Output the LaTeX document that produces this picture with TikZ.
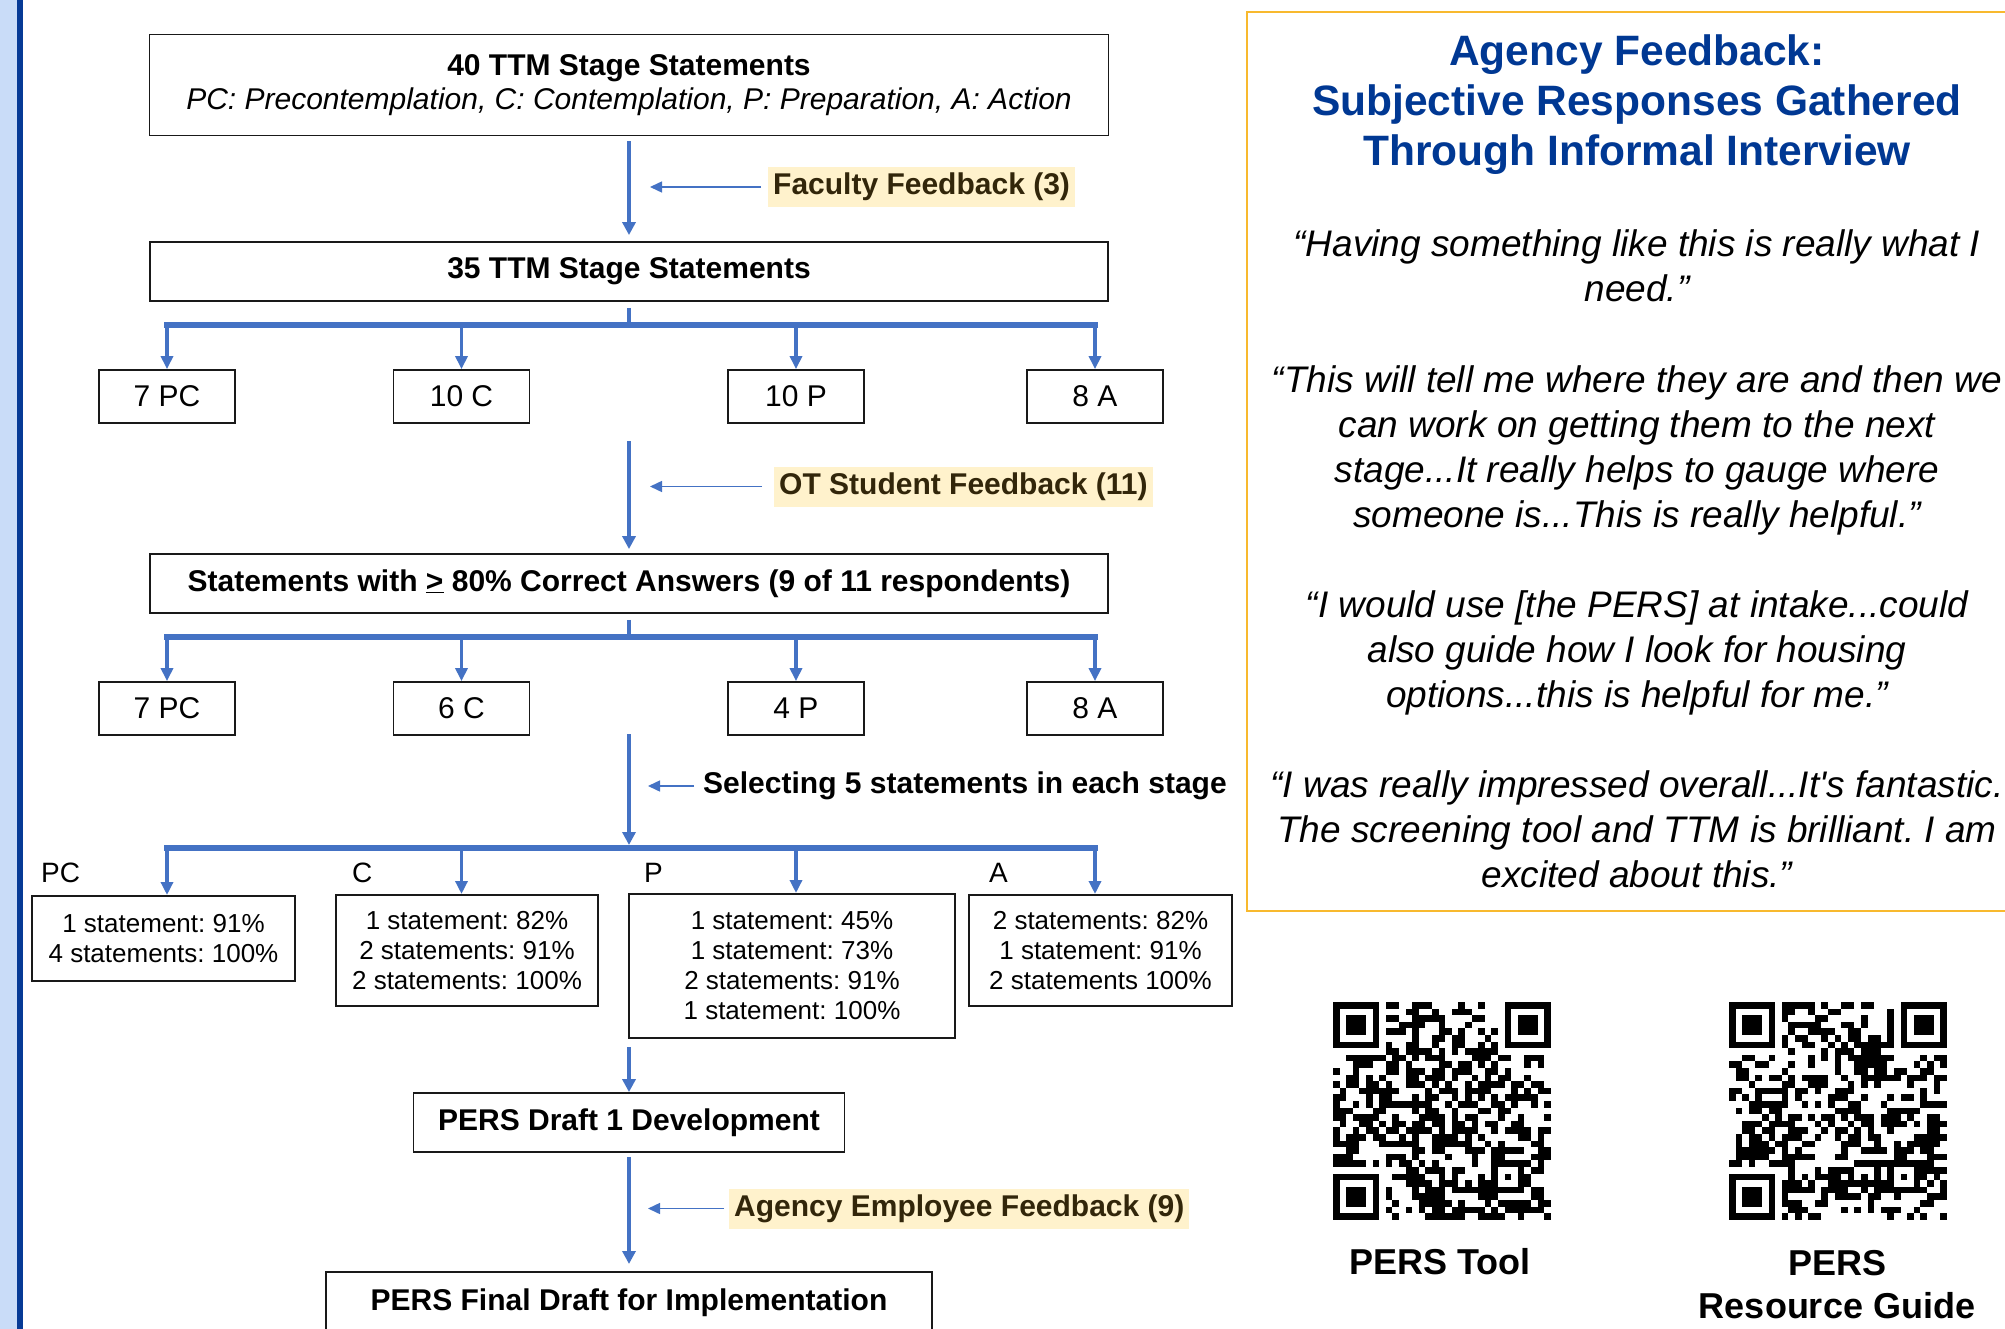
\documentclass[tikz,border=0pt]{standalone}
\usepackage{fontspec}
\setmainfont{Liberation Sans}
\usetikzlibrary{arrows.meta,positioning}
\frenchspacing

\definecolor{flowblue}{RGB}{68,114,196}
\definecolor{hlfill}{RGB}{255,242,204}
\definecolor{hltext}{RGB}{50,38,10}
\definecolor{titleblue}{RGB}{0,56,147}
\definecolor{panelorange}{RGB}{248,185,46}
\definecolor{barlight}{RGB}{201,220,248}
\definecolor{bardark}{RGB}{6,58,150}

\begin{document}
\begin{tikzpicture}[x=1pt, y=-1pt,
    mainbox/.style={draw=black!90, line width=1.8pt, minimum height=59, align=center,
        font=\fontsize{30}{34}\selectfont\bfseries, inner sep=0},
    stagebox/.style={draw=black!90, line width=1.8pt, minimum width=136, minimum height=53,
        font=\fontsize{30}{34}\selectfont, inner sep=0},
    countbox/.style={draw=black!90, line width=1.5pt, anchor=north, align=center,
        font=\fontsize{26}{30}\selectfont, inner sep=0},
    feedback/.style={fill=hlfill, text=hltext, anchor=west, minimum height=40, inner xsep=5,
        inner ysep=0, font=\fontsize{30}{34}\selectfont\bfseries},
    selnote/.style={anchor=west, inner sep=0, font=\fontsize{30}{34}\selectfont\bfseries},
    flow/.style={draw=flowblue, line width=4.5pt, -{Triangle[width=13pt,length=13pt]}},
    sideflow/.style={draw=flowblue, line width=1.5pt, -{Triangle[width=11pt,length=12pt]}},
    stem/.style={draw=flowblue, line width=3.5pt},
    branchbar/.style={draw=flowblue, line width=5.5pt, line cap=rect},
    drop/.style={draw=flowblue, line width=3.5pt, -{Triangle[width=12pt,length=13pt]}},
    stage/.style={anchor=base west, font=\fontsize{28}{32}\selectfont, inner sep=0},
    quote/.style={anchor=base, font=\fontsize{37}{45}\selectfont\itshape, inner sep=0},
    headline/.style={anchor=base, text=titleblue, font=\fontsize{42.5}{50}\selectfont\bfseries, inner sep=0},
    qrlabel/.style={anchor=base, font=\fontsize{36}{44}\selectfont\bfseries, inner sep=0}
]
    \useasboundingbox (0,0) rectangle (2005,1329);
    \clip (0,0) rectangle (2005,1329);
    \fill[white] (0,0) rectangle (2005,1329);

    % left edge band
    \fill[barlight] (0,0) rectangle (17,1329);
    \fill[bardark] (17,0) rectangle (23,1329);

    % Statements
    \node[mainbox, minimum width=959, minimum height=101] (s40) at (629,85)
        {40 TTM Stage Statements\\{\mdseries\itshape PC: Precontemplation, C: Contemplation, P: Preparation, A: Action}};
    \node[mainbox, minimum width=958] (s35) at (629,271.5) {35 TTM Stage Statements};
    \node[mainbox, minimum width=958] (s80) at (629,583.5)
        {Statements with \underline{>} 80\% Correct Answers (9 of 11 respondents)};

    % stage counts
    \foreach \n/\x/\t in {pc1/167/7 PC, c1/461.5/10 C, p1/796/10 P, a1/1095/8 A} {
        \node[stagebox] (\n) at (\x,396.5) {\t};
    }
    \foreach \n/\x/\t in {pc2/167/7 PC, c2/461.5/6 C, p2/796/4 P, a2/1095/8 A} {
        \node[stagebox] (\n) at (\x,708.5) {\t};
    }

    % selected statements per stage
    \node[countbox, minimum width=263, minimum height=85] (pcbox) at (163.5,895)
        {1 statement: 91\%\\4 statements: 100\%};
    \node[countbox, minimum width=262, minimum height=111] (cbox) at (467,894)
        {1 statement: 82\%\\2 statements: 91\%\\2 statements: 100\%};
    \node[countbox, minimum width=326, minimum height=144] (pbox) at (792,893)
        {1 statement: 45\%\\1 statement: 73\%\\2 statements: 91\%\\1 statement: 100\%};
    \node[countbox, minimum width=263, minimum height=111] (abox) at (1100.5,894)
        {2 statements: 82\%\\1 statement: 91\%\\2 statements 100\%};
    \foreach \n/\x/\t in {tpc/41/PC, tc/352/C, tp/644/P, ta/989/A} {
        \node[stage] (\n) at (\x,882) {\t};
    }

    \node[mainbox, minimum width=431] (draft) at (629,1122.5) {PERS Draft 1 Development};
    \node[mainbox, minimum width=606, minimum height=62, anchor=north] (final) at (629,1271)
        {PERS Final Draft for Implementation};

    % feedback notes
    \node[feedback] (fac) at (768,187) {Faculty Feedback (3)};
    \node[feedback] (ots) at (774,486.5) {OT Student Feedback (11)};
    \node[selnote] (sel) at (703,786) {Selecting 5 statements in each stage};
    \node[feedback] (emp) at (729,1208.5) {Agency Employee Feedback (9)};

    % connectors
    \draw[flow, shorten <=5pt, shorten >=6pt] (s40) -- (s35);
    \coordinate (j1) at (629,325);
    \draw[stem, shorten <=6pt] (s35) -- (j1);
    \draw[branchbar] (j1 -| pc1) -- (j1 -| a1);
    \foreach \n in {pc1,c1,p1,a1} \draw[drop] (j1 -| \n) -- (\n);

    \coordinate (o1) at (629,441);
    \draw[flow, shorten >=4pt] (o1) -- (s80);
    \coordinate (j2) at (629,637);
    \draw[stem, shorten <=6pt] (s80) -- (j2);
    \draw[branchbar] (j2 -| pc2) -- (j2 -| a2);
    \foreach \n in {pc2,c2,p2,a2} \draw[drop] (j2 -| \n) -- (\n);

    \coordinate (o2) at (629,734);
    \coordinate (j3) at (629,848);
    \draw[flow, shorten >=3pt] (o2) -- (j3);
    \draw[branchbar] (j3 -| pc1) -- (j3 -| a1);
    \foreach \n/\b in {pc1/pcbox, c1/cbox, p1/pbox, a1/abox} \draw[drop] (j3 -| \n) -- (\n |- \b.north);

    \coordinate (o3) at (629,1047);
    \draw[flow] (o3) -- (draft);
    \draw[flow, shorten <=4pt, shorten >=7pt] (draft) -- (final);

    \draw[sideflow, shorten >=21pt] ([xshift=-7pt]fac.west) -- (fac.west -| s35.north);
    \draw[sideflow, shorten >=21pt] ([xshift=-12pt]ots.west) -- (ots.west -| s80.north);
    \draw[sideflow, shorten >=19pt] ([xshift=-9pt]sel.west) -- (sel.west -| s80.south);
    \draw[sideflow, shorten >=19pt] ([xshift=-5pt]emp.west) -- (emp.west -| draft.south);

    % agency feedback panel
    \draw[panelorange, line width=2pt] (1247,12.5) rectangle (2030,911);
    \foreach \k/\val in {0/{Agency Feedback:}, 1/{Subjective Responses Gathered}, 2/{Through Informal Interview}} {
        \node[headline] (h\k) at (1637,{66+50*\k}) {\val};
    }
    \foreach \k/\val in {
        0/{“Having something like this is really what I},
        1/{need.”},
        3/{“This will tell me where they are and then we},
        4/{can work on getting them to the next},
        5/{stage...It really helps to gauge where},
        6/{someone is...This is really helpful.”},
        8/{“I would use [the PERS] at intake...could},
        9/{also guide how I look for housing},
        10/{options...this is helpful for me.”},
        12/{“I was really impressed overall...It\textquotesingle s fantastic.},
        13/{The screening tool and TTM is brilliant. I am},
        14/{excited about this.”}
        } {
        \node[quote] (q\k) at (1637,{257+45*\k}) {\val};
    }

    % QR codes
    \foreach \qx/\qs in {1333/7, 1729/23} {
        \begin{scope}[shift={(\qx,1002)}, x=6.6pt, y=-6.6pt]
            \pgfmathsetseed{\qs}
            \foreach \i in {0,...,32} {
                \foreach \j in {0,...,32} {
                    \pgfmathtruncatemacro{\qrbit}{(rnd<0.5)*(1-(\i<8)*(\j<8))*(1-(\i>24)*(\j<8))*(1-(\i<8)*(\j>24))*(1-(\i>23)*(\i<29)*(\j>23)*(\j<29))}
                    \ifnum\qrbit=1 \fill (\i,\j) rectangle ++(1,1); \fi
                }
            }
            \foreach \fx/\fy in {0/0, 26/0, 0/26} {
                \draw[line width=6.6pt] (\fx+0.5,\fy+0.5) rectangle (\fx+6.5,\fy+6.5);
                \fill (\fx+2,\fy+2) rectangle (\fx+5,\fy+5);
            }
            \draw[line width=6.6pt] (24.5,24.5) rectangle (28.5,28.5);
            \fill (26,26) rectangle (27,27);
        \end{scope}
    }
    \node[qrlabel] (tool) at (1440,1274) {PERS Tool};
    \node[qrlabel] (guide1) at (1837,1275) {PERS};
    \node[qrlabel] (guide2) at (1837,1318) {Resource Guide};
\end{tikzpicture}
\end{document}
